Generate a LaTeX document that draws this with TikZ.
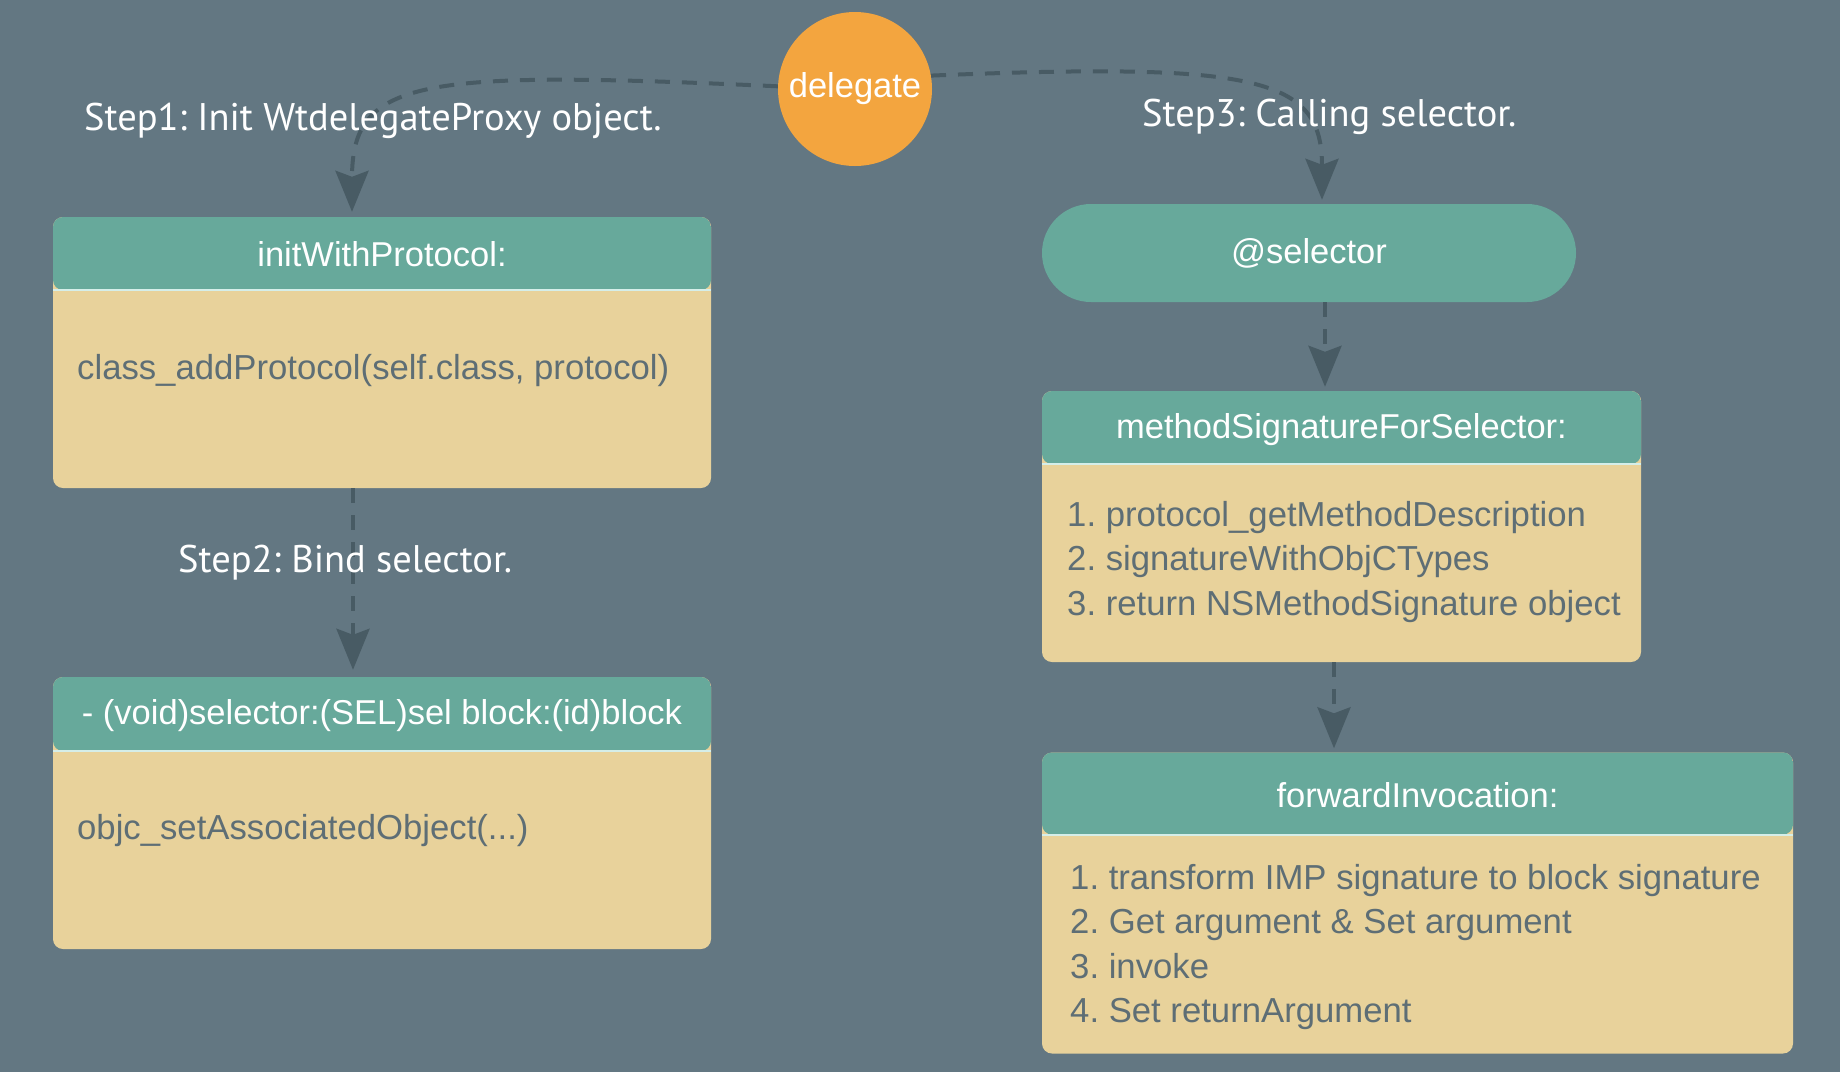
\documentclass[tikz,border=0pt]{standalone}
\usepackage{fontspec}
\setmainfont{Liberation Sans}
\newfontfamily\stepfont{PT Sans}
\usetikzlibrary{arrows.meta, positioning, calc}
\frenchspacing
\definecolor{bgSlate}{HTML}{637782}
\definecolor{hdTeal}{HTML}{67A99B}
\definecolor{bdSand}{HTML}{E8D29B}
\definecolor{dgOrange}{HTML}{F3A53F}
\definecolor{arSlate}{HTML}{485B64}
\definecolor{txGray}{HTML}{5E6E75}
\definecolor{lnMint}{HTML}{D5EEE9}

\tikzset{
	card/.style={rectangle, rounded corners=10pt, fill=bdSand, inner sep=0pt,
		path picture={
			\fill[hdTeal] (path picture bounding box.north west) rectangle
				([yshift=-#1]path picture bounding box.north east);
			\draw[lnMint, line width=2pt] ([yshift=-#1]path picture bounding box.north west) --
				([yshift=-#1]path picture bounding box.north east);
		}},
	hdtext/.style={text=white, font=\fontsize{34.5}{40}\selectfont, inner sep=0pt},
	bdtext/.style={text=txGray, font=\fontsize{34.7}{44.5}\selectfont, align=left, inner sep=0pt, anchor=west},
	steptext/.style={text=white, font=\stepfont\fontsize{38.5}{44}\selectfont, inner sep=0pt, anchor=west},
	flow/.style={arSlate, line width=4pt, dash pattern=on 15pt off 12pt,
		-{Stealth[length=41pt, width=33pt, inset=6pt]}}
}

\begin{document}
\begin{tikzpicture}[x=1pt, y=-1pt]
		\useasboundingbox (0,0) rectangle (1840,1072);
		\fill[bgSlate] (0,0) rectangle (1840,1072);
		%-------------------------------------------------------------------------------
		% left column
		%-------------------------------------------------------------------------------
		\node[card=73pt, minimum width=658pt, minimum height=271pt] (boxA) at (382,352.5) {};
		\node[hdtext] (headA) at ([yshift=-37.5pt]boxA.north) {initWithProtocol:};
		\node[bdtext] (bodyA) at (77,371) {class\_addProtocol(self.class, protocol)};
		
		\node[card=74pt, minimum width=658pt, minimum height=272pt] (boxB) at (382,813) {};
		\node[hdtext] (headB) at ([yshift=-39pt]boxB.north) {- (void)selector:(SEL)sel block:(id)block};
		\node[bdtext] (bodyB) at (77,831) {objc\_setAssociatedObject(...)};
		
		%-------------------------------------------------------------------------------
		% right column
		%-------------------------------------------------------------------------------
		\node[rectangle, rounded corners=49pt, fill=hdTeal, minimum width=534pt, minimum height=98pt,
			hdtext] (sel) at (1309,253) {@selector};
		
		\node[card=73pt, minimum width=599pt, minimum height=271pt] (boxC) at (1341.5,526.5) {};
		\node[hdtext] (headC) at ([yshift=-38.5pt]boxC.north) {methodSignatureForSelector:};
		\node[bdtext] (bodyC) at (1067,562) {1. protocol\_getMethodDescription\\
			2. signatureWithObjCTypes\\
			3. return NSMethodSignature object};
		
		\node[card=82pt, minimum width=751pt, minimum height=301pt] (boxD) at (1417.5,903) {};
		\node[hdtext] (headD) at ([yshift=-43pt]boxD.north) {forwardInvocation:};
		\node[bdtext] (bodyD) at (1070,947) {1. transform IMP signature to block signature\\
			2. Get argument \& Set argument\\
			3. invoke\\
			4. Set returnArgument};
		
		% delegate
		\node[circle, fill=dgOrange, minimum size=154pt, hdtext] (deleg) at (855,89) {delegate};
		
		% flow
		\draw[flow, shorten >=5pt] (deleg.178) .. controls (420,70) and (352,78) .. ([xshift=-30pt]boxA.north);
		\draw[flow, shorten >=7pt] ([xshift=-29pt]boxA.south) -- ([xshift=-29pt]boxB.north);
		\draw[flow, shorten >=4pt] (deleg.10) .. controls (1260,62) and (1322,78) .. ([xshift=13pt]sel.north);
		\draw[flow, shorten >=4pt] ([xshift=16pt]sel.south) -- ([xshift=-16.5pt]boxC.north);
		\draw[flow, shorten >=4pt] ([xshift=-7.5pt]boxC.south) -- ([xshift=-83.5pt]boxD.north);
		
		% labels
		\node[steptext] (step1) at (84,121) {Step1: Init WtdelegateProxy object.};
		\node[steptext] (step2) at (178,563) {Step2: Bind selector.};
		\node[steptext] (step3) at (1142,117) {Step3: Calling selector.};
\end{tikzpicture}
\end{document}
